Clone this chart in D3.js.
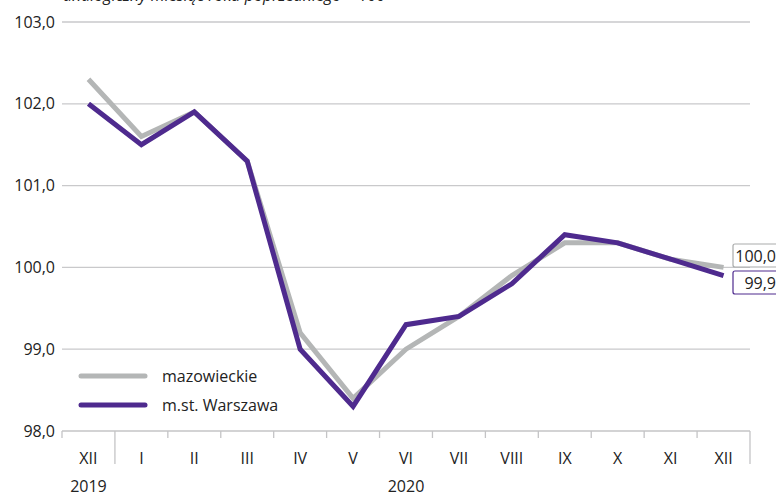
<!DOCTYPE html>
<html>
<head>
<meta charset="utf-8">
<script src="https://cdn.jsdelivr.net/npm/d3@7"></script>
<style>
  body { margin: 0; background: #fff; }
  svg { display: block; font-family: "Open Sans", "Noto Sans", sans-serif; }
</style>
</head>
<body>
<script>
// dane
const months = ['XII', 'I', 'II', 'III', 'IV', 'V', 'VI', 'VII', 'VIII', 'IX', 'X', 'XI', 'XII'];
const years = [{ label: '2019', at: 0 }, { label: '2020', at: 6 }];
const mazowieckie = [102.3, 101.6, 101.9, 101.3, 99.2, 98.4, 99.0, 99.4, 99.9, 100.3, 100.3, 100.1, 100.0];
const warszawa = [102.0, 101.5, 101.9, 101.3, 99.0, 98.3, 99.3, 99.4, 99.8, 100.4, 100.3, 100.1, 99.9];
const yTicks = [98, 99, 100, 101, 102, 103];
const seriesNames = ['mazowieckie', 'm.st. Warszawa'];

const width = 776, height = 497;
const grey = '#b4b6b6', purple = '#4e2a8e', gridColor = '#c9c9cb', axisColor = '#c4c4c6';
const fs = 16;
const fmt = v => d3.format('.1f')(v).replace('.', ',');

const svg = d3.select('body').append('svg')
    .attr('width', width)
    .attr('height', height);

const idx = months.map((_, i) => i);
const x = d3.scaleBand().domain(idx).range([62, 750]);
const y = d3.scaleLinear().domain([98, 103]).range([431, 22]);
const cx = i => x(i) + x.bandwidth() / 2;

// podtytuł (obcięty u góry)
svg.append('text')
    .attr('x', 63).attr('y', 1)
    .attr('font-size', fs).attr('font-style', 'italic').attr('fill', '#222')
    .text('analogiczny miesiąc roku poprzedniego = 100');

// siatka
svg.append('g').selectAll('line').data(yTicks.slice(1)).enter()
    .append('line')
    .attr('x1', 62).attr('x2', 750)
    .attr('y1', d => y(d)).attr('y2', d => y(d))
    .attr('stroke', gridColor).attr('stroke-width', 1.3);

svg.append('g').selectAll('text').data(yTicks).enter()
    .append('text')
    .attr('x', 55).attr('y', d => y(d) + 5.5)
    .attr('text-anchor', 'end')
    .attr('font-size', fs).attr('fill', '#222')
    .text(fmt);

// oś X
const axis = svg.append('g');
axis.append('line')
    .attr('x1', 62).attr('x2', 750).attr('y1', y(98)).attr('y2', y(98))
    .attr('stroke', axisColor).attr('stroke-width', 1.3);
axis.selectAll('line.tick').data(d3.range(months.length + 1)).enter()
    .append('line')
    .attr('class', 'tick')
    .attr('x1', d => d < months.length ? x(d) : x.range()[1])
    .attr('x2', d => d < months.length ? x(d) : x.range()[1])
    .attr('y1', y(98))
    .attr('y2', d => (d === 1 || d === months.length) ? 464 : 438)
    .attr('stroke', axisColor).attr('stroke-width', 1.3);
axis.selectAll('text.month').data(months).enter()
    .append('text')
    .attr('x', (d, i) => cx(i)).attr('y', 464)
    .attr('text-anchor', 'middle')
    .attr('font-size', fs).attr('fill', '#222')
    .text(d => d);
axis.selectAll('text.year').data(years).enter()
    .append('text')
    .attr('x', d => cx(d.at)).attr('y', 492)
    .attr('text-anchor', 'middle')
    .attr('font-size', fs).attr('fill', '#222')
    .text(d => d.label);

// linie
const line = d3.line().x((d, i) => cx(i)).y(d => y(d));
[[mazowieckie, grey], [warszawa, purple]].forEach(([data, color]) => {
    svg.append('path')
        .datum(data)
        .attr('fill', 'none')
        .attr('stroke', color)
        .attr('stroke-width', 5)
        .attr('stroke-linejoin', 'miter')
        .attr('d', line);
});

// etykiety końcowe
const endLabels = [
    { v: mazowieckie[mazowieckie.length - 1], color: '#a9abab', top: 244 },
    { v: warszawa[warszawa.length - 1], color: purple, top: 271 }
];
const lab = svg.append('g').selectAll('g').data(endLabels).enter().append('g');
lab.append('rect')
    .attr('x', 733).attr('y', d => d.top)
    .attr('width', 50).attr('height', 23)
    .attr('rx', 2)
    .attr('fill', '#fff').attr('stroke', d => d.color).attr('stroke-width', 1.2);
lab.append('text')
    .attr('x', 776).attr('y', d => d.top + 17.5)
    .attr('text-anchor', 'end')
    .attr('font-size', fs).attr('fill', '#222')
    .text(d => fmt(d.v));

// legenda
const legend = svg.append('g').selectAll('g').data(seriesNames).enter().append('g')
    .attr('transform', (d, i) => `translate(0,${376 + i * 29})`);
legend.append('line')
    .attr('x1', 81).attr('x2', 145)
    .attr('stroke', (d, i) => i ? purple : grey)
    .attr('stroke-width', 5).attr('stroke-linecap', 'round');
legend.append('text')
    .attr('x', 162).attr('y', 5.5)
    .attr('font-size', fs).attr('fill', '#222')
    .text(d => d);
</script>
</body>
</html>
